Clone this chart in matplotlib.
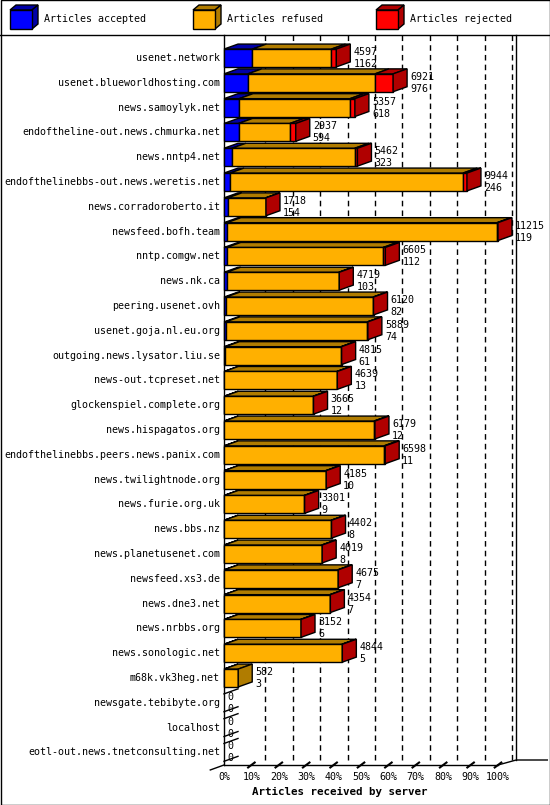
import matplotlib
matplotlib.use("Agg")
import matplotlib.pyplot as plt
from matplotlib.patches import Polygon, Rectangle

servers = ["usenet.network", "usenet.blueworldhosting.com", "news.samoylyk.net",
           "endoftheline-out.news.chmurka.net", "news.nntp4.net",
           "endofthelinebbs-out.news.weretis.net", "news.corradoroberto.it",
           "newsfeed.bofh.team", "nntp.comgw.net", "news.nk.ca", "peering.usenet.ovh",
           "usenet.goja.nl.eu.org", "outgoing.news.lysator.liu.se", "news-out.tcpreset.net",
           "glockenspiel.complete.org", "news.hispagatos.org",
           "endofthelinebbs.peers.news.panix.com", "news.twilightnode.org",
           "news.furie.org.uk", "news.bbs.nz", "news.planetusenet.com", "newsfeed.xs3.de",
           "news.dne3.net", "news.nrbbs.org", "news.sonologic.net", "m68k.vk3heg.net",
           "newsgate.tebibyte.org", "localhost", "eotl-out.news.tnetconsulting.net"]
totals = [4597, 6921, 5357, 2937, 5462, 9944, 1718, 11215, 6605, 4719, 6120, 5889,
          4815, 4639, 3665, 6179, 6598, 4185, 3301, 4402, 4019, 4675, 4354, 3152,
          4844, 582, 0, 0, 0]
accepted = [1162, 976, 618, 594, 323, 246, 154, 119, 112, 103, 82, 74, 61, 13, 12,
            12, 11, 10, 9, 8, 8, 7, 7, 6, 5, 3, 0, 0, 0]
rejected = [200, 740, 200, 240, 110, 160, 10, 40, 90, 20, 20, 20, 20, 20, 20, 40, 50,
            20, 20, 20, 20, 20, 20, 20, 20, 0, 0, 0, 0]
refused = [t - a - r for t, a, r in zip(totals, accepted, rejected)]
ticks = [0, 10, 20, 30, 40, 50, 60, 70, 80, 90, 100]

MONO = "DejaVu Sans Mono"
FS = 7.2
colors = {"acc": ("#0000ff", "#0000a8"), "ref": ("#ffb000", "#b07c00"),
          "rej": ("#ff0000", "#b00000")}

# geometry: x in percent, y in row units
PX = 2.74          # px per percent
ROW = 24.8         # px per row
DX = 14 / PX       # depth offset in percent
DY = 5 / ROW       # depth offset in rows
H = 0.36           # half bar height
maxv = max(totals)

fig = plt.figure(figsize=(5.5, 8.05), dpi=100)
ax = fig.add_axes([0, 0, 1, 1])
ax.set_xlim(-224 / PX, (550 - 224) / PX)
ax.set_ylim((805 - 58) / ROW, -58 / ROW)
ax.axis("off")


def seg(y, x0, x1, key, side):
    front, dark = colors[key]
    ax.add_patch(Polygon([(x0, y - H), (x0 + DX, y - H - DY), (x1 + DX, y - H - DY),
                          (x1, y - H)], closed=True, fc=dark, ec="black", lw=1, zorder=3))
    ax.add_patch(Rectangle((x0, y - H), x1 - x0, 2 * H, fc=front, ec="black", lw=1, zorder=4))
    if side:
        ax.add_patch(Polygon([(x1, y - H), (x1 + DX, y - H - DY), (x1 + DX, y + H - DY),
                              (x1, y + H)], closed=True, fc=dark, ec="black", lw=1, zorder=4))


floor_y = (765 - 58) / ROW
top_y = (35 - 58) / ROW
# back wall / grid
for t in ticks[1:]:
    ax.plot([t + DX, t + DX], [top_y, floor_y - DY], color="black", lw=1,
            ls=(0, (4, 3)), zorder=1)
    ax.plot([t - 1.2, t + 1.2], [floor_y + 0.1, floor_y - 0.1], color="black", lw=1.5, zorder=1)
ax.plot([0, 0], [top_y, floor_y], color="black", lw=1, zorder=2)
ax.plot([100 + 1.3 * DX, 100 + 1.3 * DX], [top_y, floor_y - DY], color="black", lw=1, zorder=1)
ax.plot([0, 100], [floor_y, floor_y], color="black", lw=1, zorder=2)
ax.plot([100, 100 + 1.3 * DX, 118], [floor_y, floor_y - DY, floor_y - DY], color="black", lw=1)
ax.plot([-5, 0], [floor_y + 0.2, floor_y], color="black", lw=1)

for i, name in enumerate(servers):
    y = i
    ax.text(-4 / PX, y, name, ha="right", va="center", family=MONO, fontsize=FS)
    a = accepted[i] / maxv * 100
    rf = refused[i] / maxv * 100
    rj = rejected[i] / maxv * 100
    if totals[i] == 0:
        ax.plot([0, DX], [y + H, y + H - DY], color="black", lw=1, zorder=3)
        ax.plot([0, DX], [y - H, y - H - DY], color="black", lw=1, zorder=3)
        end = 0
    else:
        x = 0
        parts = [("acc", a), ("ref", rf), ("rej", rj)]
        parts = [p for p in parts if p[1] > 0]
        for k, (key, w) in enumerate(parts):
            seg(y, x, x + w, key, k == len(parts) - 1)
            x += w
        end = x + DX
    ax.text(end + 3 / PX, y - 0.24, str(totals[i]), ha="left", va="center",
            family=MONO, fontsize=FS, zorder=5)
    ax.text(end + 3 / PX, y + 0.24, str(accepted[i]), ha="left", va="center",
            family=MONO, fontsize=FS, zorder=5)

for t in ticks:
    ax.text(t, floor_y + 0.47, f"{t}%", ha="center", va="center", family=MONO, fontsize=FS)
ax.text(50 - 1.5 * DX, floor_y + 1.08, "Articles received by server", ha="center",
        va="center", family=MONO, fontsize=FS + 0.6, fontweight="bold")

# legend header and frame in pixel coords
deco = fig.add_axes([0, 0, 1, 1], facecolor="none")
deco.set_xlim(0, 550)
deco.set_ylim(805, 0)
deco.axis("off")
deco.add_patch(Rectangle((0.5, 0.5), 549, 804, fill=False, ec="black", lw=1))
deco.plot([0, 550], [35, 35], color="black", lw=1)
legend = [(10, "acc", "Articles accepted"), (193, "ref", "Articles refused"),
          (376, "rej", "Articles rejected")]
for lx, key, label in legend:
    front, dark = colors[key]
    deco.add_patch(Polygon([(lx, 10), (lx + 6, 5), (lx + 28, 5), (lx + 22, 10)],
                           fc=dark, ec="black", lw=1))
    deco.add_patch(Polygon([(lx + 22, 10), (lx + 28, 5), (lx + 28, 24), (lx + 22, 29)],
                           fc=dark, ec="black", lw=1))
    deco.add_patch(Rectangle((lx, 10), 22, 19, fc=front, ec="black", lw=1))
    deco.text(lx + 34, 19, label, ha="left", va="center", family=MONO, fontsize=FS)

fig.savefig("out.png", dpi=100)
